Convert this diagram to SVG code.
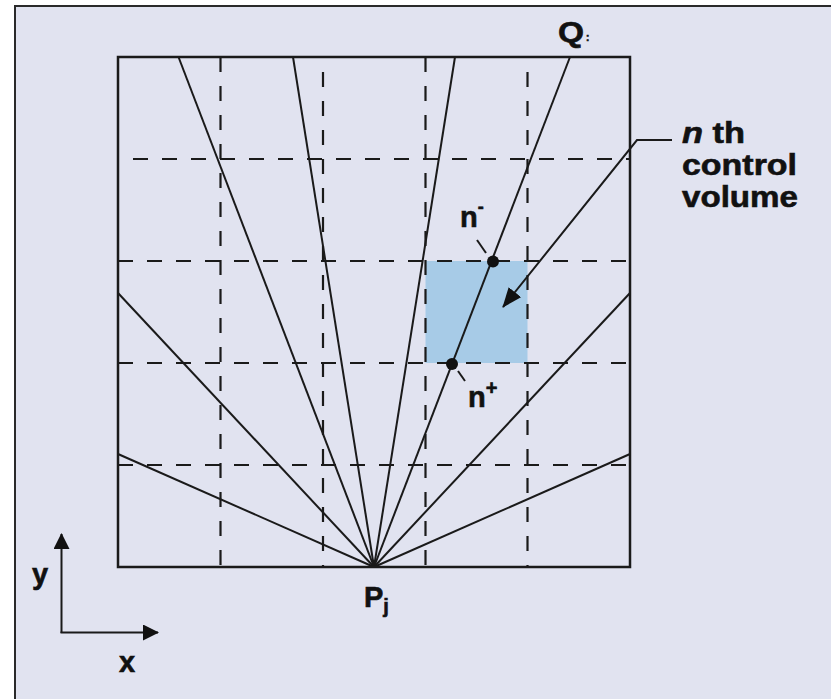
<svg xmlns="http://www.w3.org/2000/svg" width="831" height="699" viewBox="0 0 831 699">
<defs>
<style>
.lbl{font-family:"Liberation Sans",Arial,sans-serif;font-weight:bold;fill:#111;stroke:#111;stroke-width:0.6;}
.ray{stroke:#1a1a1a;stroke-width:2;fill:none;}
.dash{stroke:#1a1a1a;stroke-width:2.2;fill:none;stroke-dasharray:15 14;}
.box{stroke:#1a1a1a;stroke-width:2.5;fill:none;}
</style>
<marker id="ahBig" viewBox="0 0 20 16" refX="19" refY="8" markerWidth="20" markerHeight="16" markerUnits="userSpaceOnUse" orient="auto">
<path d="M0,0 L20,8 L0,16 z" fill="#111"/>
</marker>
<marker id="ahAxis" viewBox="0 0 16 16" refX="15" refY="8" markerWidth="16" markerHeight="16" markerUnits="userSpaceOnUse" orient="auto">
<path d="M0,0 L16,8 L0,16 z" fill="#111"/>
</marker>
</defs>
<rect x="0" y="0" width="831" height="699" fill="#ffffff"/>
<rect id="frame" x="15" y="6" width="830" height="710" fill="#e1e3f0" stroke="#2a2a2a" stroke-width="2"/>

<g id="cell">
<rect x="425.5" y="261" width="102" height="102" fill="#a7cbe7"/>
</g>

<g id="grid">
<line class="dash" x1="220.5" y1="57" x2="220.5" y2="567"/>
<line class="dash" x1="323" y1="57" x2="323" y2="567" stroke-dashoffset="-15"/>
<line class="dash" x1="425.5" y1="57" x2="425.5" y2="567"/>
<line class="dash" x1="527.5" y1="57" x2="527.5" y2="567" stroke-dashoffset="-15"/>
<line class="dash" x1="118" y1="159" x2="630" y2="159" stroke-dashoffset="-15"/>
<line class="dash" x1="118" y1="261" x2="630" y2="261"/>
<line class="dash" x1="118" y1="363" x2="630" y2="363"/>
<line class="dash" x1="118" y1="465" x2="630" y2="465"/>
</g>

<g id="connectors">
<line class="ray" x1="374" y1="567" x2="118" y2="454"/>
<line class="ray" x1="374" y1="567" x2="118" y2="293"/>
<line class="ray" x1="374" y1="567" x2="178.5" y2="57"/>
<line class="ray" x1="374" y1="567" x2="293" y2="57"/>
<line class="ray" x1="374" y1="567" x2="455" y2="57"/>
<line class="ray" x1="374" y1="567" x2="570" y2="57"/>
<line class="ray" x1="374" y1="567" x2="630" y2="293"/>
<line class="ray" x1="374" y1="567" x2="630" y2="454"/>
<polyline class="ray" points="672,140 637,140 503,307" marker-end="url(#ahBig)"/>
<line class="ray" x1="477" y1="240" x2="486" y2="253"/>
<line class="ray" x1="458" y1="371" x2="465" y2="381"/>
<line class="ray" x1="61.5" y1="633" x2="61.5" y2="534" marker-end="url(#ahAxis)"/>
<line class="ray" x1="60.5" y1="632.5" x2="158" y2="632.5" marker-end="url(#ahAxis)"/>
</g>

<g id="domain">
<rect class="box" x="118" y="57" width="512" height="510"/>
</g>

<g id="points">
<circle cx="493" cy="261.5" r="6" fill="#111"/>
<circle cx="452" cy="364" r="6" fill="#111"/>
</g>

<g id="labels">
<text class="lbl" x="558" y="42" font-size="29" textLength="26" lengthAdjust="spacingAndGlyphs">Q</text>
<text class="lbl" x="586" y="41" font-size="10" stroke-width="0">:</text>
<text class="lbl" x="460" y="227" font-size="29">n<tspan font-size="18" dy="-14">-</tspan></text>
<text class="lbl" x="468" y="407" font-size="29">n<tspan font-size="20" dy="-12">+</tspan></text>
<text class="lbl" x="364" y="607" font-size="29">P<tspan font-size="20" dy="6">j</tspan></text>
<text class="lbl" x="32" y="584" font-size="29">y</text>
<text class="lbl" x="119" y="672" font-size="29">x</text>
<text class="lbl" x="682" y="143" font-size="29" textLength="63" lengthAdjust="spacingAndGlyphs"><tspan font-style="italic">n</tspan> th</text>
<text class="lbl" x="682" y="175" font-size="29" textLength="115" lengthAdjust="spacingAndGlyphs">control</text>
<text class="lbl" x="682" y="207" font-size="29" textLength="116" lengthAdjust="spacingAndGlyphs">volume</text>
</g>
</svg>
